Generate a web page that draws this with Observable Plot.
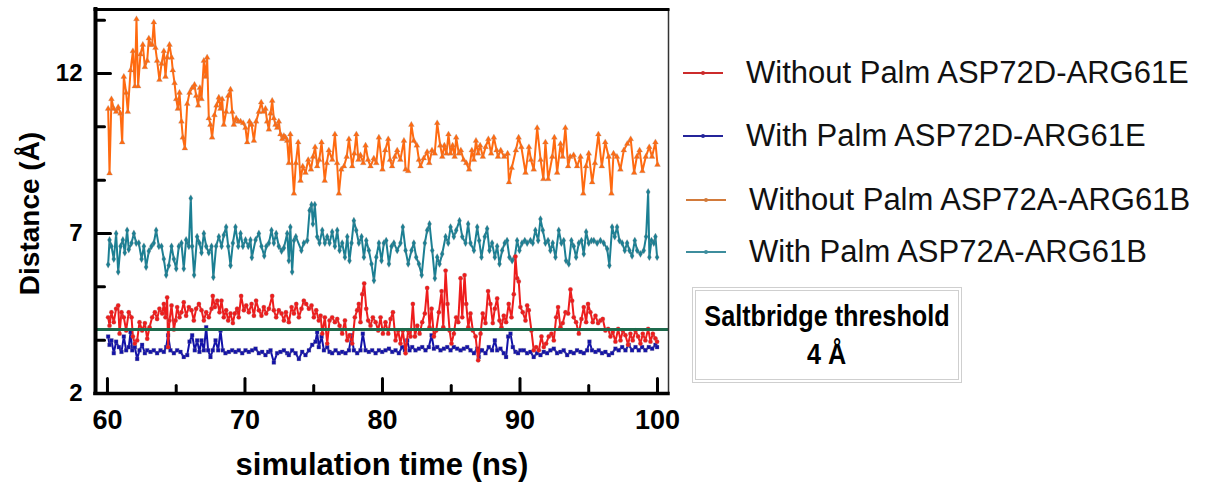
<!DOCTYPE html>
<html>
<head>
<meta charset="utf-8">
<script src="https://cdn.jsdelivr.net/npm/d3@7"></script>
<script src="https://cdn.jsdelivr.net/npm/@observablehq/plot@0.6"></script>
<style>
  body { margin: 0; background: #fff; }
  #wrap { position: relative; width: 1207px; height: 483px; overflow: hidden; font-family: "Liberation Sans", Arial, sans-serif; }
  #chart { position: absolute; left: 0; top: 0; }
  .leg { position: absolute; left: 683px; height: 40px; display: flex; align-items: center; white-space: nowrap; }
  .leg .sw { position: relative; width: 40px; height: 2px; margin-right: 23px; }
  .leg .sw i { position: absolute; left: 18px; top: -1.5px; width: 4px; height: 4px; border-radius: 2px; }
  .leg span { font-size: 31px; color: #111; }
  #thr { position: absolute; left: 692px; top: 287px; width: 262px; height: 88px; border: 4px double #cfcfcf; color: #000; font-weight: bold;
         display: flex; flex-direction: column; align-items: center; box-sizing: content-box; }
  #thr div { font-size: 29px; line-height: 29px; transform: scaleX(0.87); white-space: nowrap; }
</style>
</head>
<body>
<div id="wrap"><div id="chart"></div></div>
<script>
// ---- data (time in ns, distance in Å) ----
const withoutPalmD = [[60.05,4.38],[60.15,4.12],[60.29,4.54],[60.46,4.23],[60.63,4.65],[60.78,4.75],[60.88,3.87],[61.02,4.54],[61.19,4.38],[61.36,3.97],[61.55,4.54],[61.75,4.38],[61.85,3.78],[61.99,3.56],[62.16,3.66],[62.33,4.23],[62.52,3.97],[62.72,4.2],[62.89,3.71],[63.06,4.07],[63.25,4.38],[63.45,4.54],[63.61,4.33],[63.78,4.65],[63.98,4.5],[64.1,4.8],[64.22,4.38],[64.34,5.0],[64.41,3.45],[64.51,4.28],[64.66,4.75],[64.83,4.0],[64.95,4.28],[65.07,4.7],[65.24,4.38],[65.38,4.54],[65.55,4.85],[65.72,4.43],[65.92,4.7],[66.11,4.6],[66.28,4.28],[66.45,4.65],[66.65,4.8],[66.84,4.6],[67.01,4.28],[67.18,4.54],[67.37,4.38],[67.57,4.65],[67.66,5.05],[67.81,4.7],[67.98,4.9],[68.15,4.54],[68.29,4.9],[68.46,4.38],[68.63,4.6],[68.78,4.28],[68.95,4.5],[69.12,4.2],[69.26,4.5],[69.43,4.65],[69.55,4.38],[69.72,5.05],[69.92,4.6],[70.09,4.75],[70.28,4.54],[70.48,4.8],[70.65,4.43],[70.81,4.9],[71.01,4.6],[71.2,4.43],[71.37,4.7],[71.54,4.5],[71.74,4.65],[71.98,5.05],[72.1,4.6],[72.27,4.38],[72.46,4.6],[72.66,4.5],[72.83,4.28],[72.98,4.54],[73.19,4.23],[73.39,4.7],[73.56,4.5],[73.73,4.8],[73.92,4.38],[74.11,4.65],[74.28,4.9],[74.45,4.8],[74.65,4.65],[74.84,4.75],[75.01,4.38],[75.18,4.6],[75.37,4.28],[75.5,4.43],[75.62,3.87],[75.81,4.38],[75.98,3.56],[76.15,4.28],[76.34,4.38],[76.54,4.23],[76.71,4.33],[76.88,4.12],[77.07,3.87],[77.27,4.28],[77.43,3.66],[77.6,3.82],[77.8,3.56],[77.99,4.38],[78.16,4.6],[78.28,4.8],[78.4,4.23],[78.53,5.1],[78.67,5.44],[78.82,4.65],[78.96,4.28],[79.13,4.12],[79.3,4.38],[79.5,4.23],[79.69,3.97],[79.86,4.38],[80.03,3.87],[80.22,4.23],[80.42,3.87],[80.59,4.33],[80.76,4.54],[80.95,3.66],[81.14,3.97],[81.31,3.56],[81.48,3.97],[81.68,3.26],[81.87,3.97],[82.04,3.78],[82.21,4.8],[82.36,3.78],[82.53,4.12],[82.7,3.87],[82.89,4.23],[83.08,4.5],[83.25,5.3],[83.42,4.07],[83.57,4.65],[83.74,3.78],[83.91,3.97],[84.1,4.54],[84.3,5.2],[84.42,4.07],[84.59,5.84],[84.73,4.8],[84.88,3.97],[85.02,3.56],[85.19,3.87],[85.36,4.38],[85.51,4.23],[85.68,5.6],[85.8,4.38],[85.97,5.7],[86.09,4.8],[86.24,4.07],[86.4,4.5],[86.57,3.97],[86.77,3.78],[86.96,3.04],[87.13,3.87],[87.29,4.5],[87.49,4.2],[87.68,5.2],[87.85,4.8],[88.02,4.2],[88.17,4.65],[88.34,4.97],[88.51,4.28],[88.65,4.07],[88.82,4.43],[88.99,4.23],[89.18,4.8],[89.38,4.38],[89.55,5.1],[89.67,6.28],[89.79,5.6],[89.91,5.5],[90.03,4.7],[90.2,4.54],[90.4,4.28],[90.52,4.75],[90.64,4.6],[90.83,3.97],[91.0,3.35],[91.17,3.45],[91.37,3.35],[91.56,3.78],[91.73,3.45],[91.9,3.56],[92.09,3.78],[92.29,3.87],[92.46,3.66],[92.63,4.38],[92.77,4.7],[92.94,4.07],[93.11,4.2],[93.31,4.54],[93.5,4.5],[93.67,5.25],[93.79,4.9],[93.91,4.38],[94.08,4.23],[94.28,3.87],[94.47,4.33],[94.64,4.7],[94.81,4.23],[94.95,4.8],[95.12,4.54],[95.29,4.23],[95.49,4.43],[95.68,4.2],[95.85,4.28],[96.02,4.33],[96.21,3.97],[96.41,4.02],[96.58,3.78],[96.75,3.92],[96.94,3.62],[97.14,4.02],[97.31,3.66],[97.48,3.97],[97.67,3.82],[97.86,3.52],[98.03,3.87],[98.2,3.66],[98.4,3.97],[98.59,3.78],[98.76,3.56],[98.93,3.87],[99.12,3.66],[99.32,4.02],[99.49,3.62],[99.66,3.87],[99.85,3.72],[99.97,3.62]];

const withPalmD = [[60.05,3.78],[60.15,3.52],[60.29,3.66],[60.46,3.26],[60.63,3.62],[60.83,3.45],[61.02,3.3],[61.19,3.78],[61.36,3.35],[61.55,3.45],[61.68,3.92],[61.8,3.35],[61.99,3.45],[62.16,3.08],[62.33,3.35],[62.52,3.52],[62.72,3.26],[62.89,3.35],[63.13,3.3],[63.37,3.35],[63.61,3.26],[63.86,3.35],[64.1,3.3],[64.27,3.45],[64.41,3.82],[64.58,3.35],[64.83,3.26],[65.07,3.35],[65.31,3.3],[65.55,3.14],[65.8,3.2],[65.97,3.62],[66.16,3.82],[66.35,3.35],[66.52,3.66],[66.69,3.3],[66.84,3.66],[67.01,3.35],[67.18,4.07],[67.32,3.35],[67.49,3.14],[67.66,3.35],[67.86,3.66],[68.05,3.35],[68.22,3.97],[68.39,3.35],[68.58,3.26],[68.83,3.3],[69.07,3.35],[69.31,3.3],[69.55,3.35],[69.8,3.26],[70.04,3.35],[70.28,3.3],[70.52,3.35],[70.77,3.4],[71.01,3.26],[71.25,3.3],[71.49,3.2],[71.69,3.3],[71.86,3.35],[72.1,2.97],[72.34,3.26],[72.58,3.3],[72.83,3.35],[73.07,3.26],[73.19,3.2],[73.43,3.35],[73.68,3.26],[73.92,3.08],[74.16,3.3],[74.4,3.2],[74.65,3.35],[74.89,3.52],[75.13,3.62],[75.25,3.92],[75.37,3.45],[75.57,3.78],[75.74,3.35],[75.98,3.45],[76.15,3.3],[76.34,3.26],[76.59,3.35],[76.83,3.26],[77.07,3.3],[77.31,3.26],[77.56,3.35],[77.75,3.82],[77.92,3.35],[78.16,3.26],[78.4,3.35],[78.57,3.87],[78.77,3.35],[79.01,3.3],[79.25,3.35],[79.5,3.26],[79.74,3.35],[79.98,3.3],[80.22,3.35],[80.47,3.4],[80.71,3.3],[80.95,3.35],[81.19,3.26],[81.43,3.45],[81.63,3.35],[81.8,3.66],[81.97,3.35],[82.16,3.45],[82.4,3.35],[82.65,3.4],[82.89,3.45],[83.13,3.35],[83.37,3.45],[83.57,3.82],[83.74,3.4],[83.98,3.45],[84.22,3.35],[84.47,3.4],[84.71,3.45],[84.95,3.35],[85.19,3.45],[85.43,3.4],[85.68,3.35],[85.92,3.4],[86.16,3.45],[86.4,3.35],[86.65,3.26],[86.89,3.4],[87.0,3.14],[87.13,3.35],[87.24,3.35],[87.49,3.26],[87.73,3.45],[87.97,3.35],[88.17,3.66],[88.34,3.35],[88.58,3.4],[88.82,3.26],[88.99,3.14],[89.14,3.78],[89.31,3.87],[89.48,3.45],[89.67,3.3],[89.86,3.26],[90.03,3.35],[90.28,3.35],[90.52,3.26],[90.76,3.3],[91.0,3.14],[91.24,3.26],[91.49,3.2],[91.73,3.3],[91.97,3.26],[92.21,3.35],[92.46,3.4],[92.7,3.26],[92.94,3.3],[93.18,3.35],[93.43,3.2],[93.67,3.3],[93.91,3.26],[94.15,3.35],[94.4,3.3],[94.64,3.26],[94.88,3.35],[95.05,3.62],[95.24,3.35],[95.49,3.3],[95.73,3.35],[95.97,3.26],[96.21,3.3],[96.46,3.2],[96.7,3.26],[96.94,3.4],[97.18,3.35],[97.43,3.45],[97.67,3.35],[97.91,3.52],[98.15,3.35],[98.4,3.45],[98.64,3.35],[98.88,3.45],[99.12,3.35],[99.37,3.45],[99.61,3.4],[99.85,3.52],[99.97,3.45]];

const withoutPalmA = [[60.05,10.9],[60.15,8.88],[60.29,11.2],[60.46,10.9],[60.63,10.8],[60.78,10.95],[60.95,10.75],[61.07,9.85],[61.19,11.9],[61.36,11.4],[61.48,10.8],[61.68,12.1],[61.85,12.7],[61.99,11.6],[62.11,13.7],[62.23,11.6],[62.4,12.6],[62.57,12.9],[62.72,12.2],[62.89,12.4],[63.01,13.1],[63.13,12.9],[63.25,12.9],[63.37,13.6],[63.49,12.8],[63.61,12.4],[63.78,11.8],[63.93,12.3],[64.1,12.7],[64.22,11.9],[64.34,12.5],[64.51,12.9],[64.66,12.5],[64.75,12.1],[64.88,11.7],[65.0,11.2],[65.12,10.9],[65.24,11.4],[65.38,10.5],[65.48,10.0],[65.63,9.66],[65.8,11.05],[65.97,11.4],[66.16,11.55],[66.33,11.65],[66.45,11.3],[66.6,11.0],[66.72,11.55],[66.84,11.2],[67.01,12.4],[67.13,11.9],[67.25,12.5],[67.37,10.6],[67.49,10.4],[67.61,10.0],[67.78,10.7],[67.93,11.0],[68.1,11.25],[68.22,10.9],[68.34,11.2],[68.46,10.4],[68.63,10.8],[68.78,11.3],[68.95,11.5],[69.07,10.8],[69.19,10.4],[69.36,10.6],[69.51,10.5],[69.68,10.5],[69.87,10.45],[70.04,10.3],[70.16,9.85],[70.33,10.5],[70.48,10.4],[70.65,9.9],[70.81,10.5],[71.01,10.8],[71.18,11.1],[71.32,10.8],[71.49,10.9],[71.61,10.5],[71.74,10.25],[71.86,10.75],[71.98,11.15],[72.1,10.6],[72.22,10.4],[72.34,10.3],[72.46,10.5],[72.58,10.1],[72.71,9.95],[72.83,10.05],[72.95,10.0],[73.07,9.9],[73.19,9.2],[73.3,10.1],[73.56,8.25],[73.7,9.2],[73.87,9.85],[74.04,8.65],[74.2,9.1],[74.4,8.9],[74.6,9.3],[74.8,9.0],[74.95,9.4],[75.1,9.7],[75.25,9.1],[75.4,9.3],[75.57,9.85],[75.8,8.65],[75.95,9.2],[76.1,9.6],[76.35,9.3],[76.54,10.1],[76.7,9.2],[76.83,8.25],[77.0,9.0],[77.2,9.1],[77.4,9.4],[77.56,9.95],[77.8,9.1],[77.95,9.5],[78.1,10.1],[78.25,9.3],[78.4,9.45],[78.6,9.2],[78.77,9.75],[78.95,9.3],[79.13,9.1],[79.37,9.35],[79.55,9.2],[79.74,10.0],[80.0,9.0],[80.2,9.6],[80.42,9.95],[80.55,9.3],[80.7,9.1],[80.9,9.4],[81.07,9.6],[81.3,9.3],[81.56,9.9],[81.68,9.0],[81.87,8.95],[82.1,10.4],[82.28,9.9],[82.5,9.75],[82.65,9.3],[82.77,9.1],[83.0,9.35],[83.25,9.55],[83.4,9.2],[83.6,9.6],[83.8,9.5],[83.98,10.45],[84.2,9.75],[84.35,9.4],[84.5,9.75],[84.65,9.5],[84.8,10.1],[84.95,9.5],[85.1,9.75],[85.25,9.4],[85.36,10.0],[85.55,9.5],[85.7,9.6],[85.9,9.3],[86.1,9.2],[86.3,9.0],[86.5,9.6],[86.65,9.3],[86.8,9.9],[86.95,9.5],[87.1,9.75],[87.3,9.4],[87.5,9.7],[87.7,9.95],[87.9,9.5],[88.1,10.0],[88.3,9.6],[88.4,9.4],[88.6,9.6],[88.85,9.4],[89.1,9.5],[89.2,8.6],[89.4,9.05],[89.7,9.6],[89.9,10.0],[90.1,9.7],[90.4,8.9],[90.65,9.7],[90.8,9.3],[91.0,9.0],[91.25,10.3],[91.5,9.3],[91.7,8.7],[91.85,9.85],[92.05,8.7],[92.35,9.4],[92.5,10.0],[92.7,8.9],[92.95,9.8],[93.1,9.4],[93.3,10.3],[93.5,9.1],[93.65,9.4],[93.9,9.45],[94.15,9.1],[94.4,9.4],[94.6,8.25],[94.8,9.1],[95.0,9.5],[95.25,8.6],[95.45,9.2],[95.7,10.1],[95.95,9.1],[96.2,9.85],[96.45,9.4],[96.65,8.25],[96.8,9.5],[97.05,9.4],[97.3,9.0],[97.55,9.6],[97.8,9.8],[98.05,9.95],[98.3,8.9],[98.5,9.4],[98.7,9.6],[98.9,8.95],[99.15,9.4],[99.4,9.7],[99.6,9.4],[99.85,9.85],[100.0,9.15]];

const withPalmA = [[60.05,6.03],[60.15,6.8],[60.29,6.6],[60.46,6.2],[60.63,7.0],[60.78,5.8],[60.95,6.6],[61.12,6.8],[61.26,6.4],[61.43,7.1],[61.55,6.5],[61.75,6.7],[61.92,7.0],[62.09,6.7],[62.28,6.7],[62.48,6.2],[62.65,6.6],[62.81,5.95],[63.01,6.45],[63.2,6.6],[63.37,6.7],[63.54,7.1],[63.74,6.6],[63.93,6.6],[64.1,6.2],[64.27,5.7],[64.46,6.0],[64.66,6.6],[64.83,6.2],[65.0,5.9],[65.19,6.6],[65.38,6.7],[65.55,5.9],[65.72,6.8],[65.92,6.6],[66.06,8.1],[66.16,6.6],[66.3,5.7],[66.52,6.9],[66.69,6.7],[66.84,6.4],[67.01,7.0],[67.18,6.6],[67.37,6.4],[67.57,6.6],[67.7,5.63],[67.9,6.6],[68.1,6.9],[68.3,6.6],[68.46,6.95],[68.63,7.2],[68.78,6.6],[68.95,6.0],[69.12,6.7],[69.31,7.2],[69.51,6.6],[69.68,7.0],[69.85,6.6],[70.04,6.8],[70.24,6.6],[70.4,6.8],[70.5,6.25],[70.77,6.8],[71.01,7.0],[71.2,6.6],[71.4,6.3],[71.55,6.6],[71.74,6.7],[71.93,7.1],[72.1,6.7],[72.27,7.0],[72.46,6.6],[72.66,6.45],[72.83,6.55],[73.07,7.0],[73.19,6.15],[73.3,7.2],[73.43,5.8],[73.56,6.78],[73.7,6.9],[74.1,6.47],[74.28,6.7],[74.53,6.78],[74.7,7.72],[74.84,7.9],[74.94,7.3],[75.08,7.9],[75.25,6.9],[75.42,6.7],[75.62,7.1],[75.81,6.7],[75.98,6.9],[76.15,6.7],[76.34,7.05],[76.54,6.6],[76.71,7.1],[76.88,6.47],[77.07,6.7],[77.27,6.26],[77.44,6.9],[77.6,6.15],[77.75,6.7],[77.92,7.4],[78.09,7.1],[78.28,6.7],[78.48,6.9],[78.65,6.26],[78.82,6.78],[79.01,6.47],[79.2,6.05],[79.38,5.53],[79.55,6.26],[79.74,6.7],[79.93,6.15],[80.1,6.7],[80.27,6.78],[80.47,6.05],[80.66,6.6],[80.83,6.7],[81.07,6.47],[81.31,6.7],[81.48,7.2],[81.68,6.47],[81.87,6.05],[82.11,6.47],[82.28,6.7],[82.45,6.26],[82.65,6.05],[82.85,5.7],[83.08,6.7],[83.25,7.1],[83.42,7.3],[83.62,6.47],[83.81,5.6],[83.98,6.26],[84.15,6.05],[84.34,6.36],[84.59,6.9],[84.78,6.7],[84.95,7.2],[85.19,6.9],[85.36,7.1],[85.6,7.4],[85.8,6.9],[86.04,6.7],[86.23,7.3],[86.4,6.7],[86.65,6.47],[86.89,7.2],[87.03,6.78],[87.2,6.26],[87.44,6.9],[87.61,7.15],[87.78,6.47],[87.97,6.7],[88.17,6.26],[88.34,6.6],[88.51,6.05],[88.7,6.47],[88.89,6.7],[89.06,6.78],[89.23,6.26],[89.43,6.15],[89.62,6.26],[89.79,6.78],[89.96,6.47],[90.15,6.7],[90.35,6.78],[90.52,6.7],[90.76,6.78],[90.93,6.7],[91.12,7.1],[91.32,6.78],[91.49,7.45],[91.66,7.1],[91.85,6.7],[92.04,6.78],[92.21,6.47],[92.38,6.7],[92.58,6.26],[92.82,7.1],[93.01,6.7],[93.18,6.78],[93.35,6.15],[93.55,6.05],[93.74,6.78],[93.91,6.6],[94.08,6.26],[94.28,6.7],[94.47,6.78],[94.64,6.36],[94.81,7.05],[95.0,6.7],[95.2,6.78],[95.37,6.78],[95.61,6.7],[95.85,6.78],[96.09,6.7],[96.34,6.52],[96.5,6.0],[96.7,7.2],[96.89,6.9],[97.06,7.2],[97.23,6.78],[97.43,6.7],[97.62,6.47],[97.79,6.7],[97.96,6.47],[98.15,6.3],[98.35,6.78],[98.52,6.47],[98.76,6.36],[99.0,6.47],[99.17,6.9],[99.32,8.3],[99.41,6.26],[99.56,6.78],[99.73,6.7],[99.85,6.9],[99.97,6.26]];

const seriesNames = ["Without Palm ASP72D-ARG61E", "With Palm ASP72D-ARG61E", "Without Palm ASP72A-ARG61B", "With Palm ASP72A-ARG61B"];
const seriesColors = ["#ee1c1c", "#1212a8", "#ff6a10", "#1b7f93"];
const legendColors = ["#cc2b2b", "#24249a", "#d27a3a", "#3d8d9d"];
const seriesSymbols = ["circle", "square", "triangle", "diamond"];

const xMajorTicks = [60, 70, 80, 90, 100];
const xMinorTicks = [65, 75, 85, 95];
const yLabelTicks = [2, 7, 12];
const yMajorTicks = [7, 12];
const yMinorTicks = [3.667, 5.333, 8.667, 10.333, 13.667];
const xDomain = [59.13, 100.8];
const yDomain = [2, 14];
const threshold = 4;
const xTitle = "simulation time (ns)";
const yTitle = "Distance (Å)";
const boxLines = ["Saltbridge threshold", "4 Å"];

// ---- build ----
const seriesData = [withoutPalmD, withPalmD, withoutPalmA, withPalmA];
const rows = seriesData.map((s, k) => s.map(([t, d]) => ({t, d, k})));
const drawOrder = [2, 3, 1, 0];

const tickShape = {draw(ctx, l) { ctx.moveTo(0, 0); ctx.lineTo(0, -l); }};

const seriesMarks = drawOrder.flatMap(k => [
  Plot.line(rows[k], {x: "t", y: "d", stroke: seriesColors[k], strokeWidth: 2}),
  Plot.dot(rows[k], {x: "t", y: "d", fill: seriesColors[k], stroke: "#9a8f8f", strokeOpacity: 0.4, strokeWidth: 0.6, r: 2.2, symbol: seriesSymbols[k]})
]);

const chart = Plot.plot({
  width: 680, height: 483,
  marginLeft: 95, marginRight: 12, marginTop: 9, marginBottom: 90,
  x: {domain: xDomain},
  y: {domain: yDomain},
  style: {fontFamily: "'Liberation Sans', Arial, sans-serif", background: "transparent", color: "#000", overflow: "visible"},
  marks: [
    ...seriesMarks,
    Plot.ruleY([threshold], {stroke: "#1e6a4c", strokeWidth: 3}),
    Plot.ruleX([xDomain[1]], {stroke: "#333", strokeWidth: 1.5}),
    Plot.ruleY([yDomain[1]], {stroke: "#000", strokeWidth: 3, strokeLinecap: "square"}),
    Plot.ruleY([yDomain[0]], {stroke: "#000", strokeWidth: 3.5, strokeLinecap: "square"}),
    Plot.ruleX([xDomain[0]], {stroke: "#000", strokeWidth: 4, strokeLinecap: "square"}),
    Plot.vector(xMajorTicks, {x: d => d, frameAnchor: "bottom", length: 15, anchor: "start", shape: tickShape, stroke: "#000", strokeWidth: 3}),
    Plot.vector(xMinorTicks, {x: d => d, frameAnchor: "bottom", length: 8, anchor: "start", shape: tickShape, stroke: "#000", strokeWidth: 3}),
    Plot.vector(yMajorTicks, {y: d => d, frameAnchor: "left", rotate: 90, length: 15, anchor: "start", shape: tickShape, stroke: "#000", strokeWidth: 3}),
    Plot.vector(yMinorTicks, {y: d => d, frameAnchor: "left", rotate: 90, length: 9, anchor: "start", shape: tickShape, stroke: "#000", strokeWidth: 3}),
    Plot.axisX({ticks: xMajorTicks, tickSize: 0, tickPadding: 16, fontSize: 27, fontWeight: "bold", tickFormat: d => String(d), label: null}),
    Plot.axisY({ticks: yLabelTicks, tickSize: 0, tickPadding: 13, fontSize: 24, fontWeight: "bold", tickFormat: d => String(d), label: null}),
    Plot.text([xTitle], {text: d => d, frameAnchor: "bottom", textAnchor: "middle", lineAnchor: "middle", dy: 72, fontSize: 31, fontWeight: "bold"}),
    Plot.text([yTitle], {text: d => d, frameAnchor: "left", textAnchor: "middle", lineAnchor: "middle", dx: -65, dy: 12, rotate: -90, fontSize: 28, fontWeight: "bold"})
  ]
});
document.getElementById("chart").appendChild(chart);

// legend (HTML, right of the plot)
const wrap = document.getElementById("wrap");
const legendTops = [53, 116, 180, 232];
const legendLeft = [683, 683, 686, 686];
seriesNames.forEach((name, k) => {
  const row = document.createElement("div");
  row.className = "leg";
  row.style.top = legendTops[k] + "px";
  row.style.left = legendLeft[k] + "px";
  const sw = document.createElement("div");
  sw.className = "sw";
  sw.style.background = legendColors[k];
  const dot = document.createElement("i");
  dot.style.background = legendColors[k];
  sw.appendChild(dot);
  const label = document.createElement("span");
  label.textContent = name;
  row.appendChild(sw);
  row.appendChild(label);
  wrap.appendChild(row);
});

const box = document.createElement("div");
box.id = "thr";
boxLines.forEach((t, i) => {
  const d = document.createElement("div");
  d.textContent = t;
  d.style.marginTop = i === 0 ? "11px" : "9px";
  box.appendChild(d);
});
wrap.appendChild(box);
</script>
</body>
</html>
